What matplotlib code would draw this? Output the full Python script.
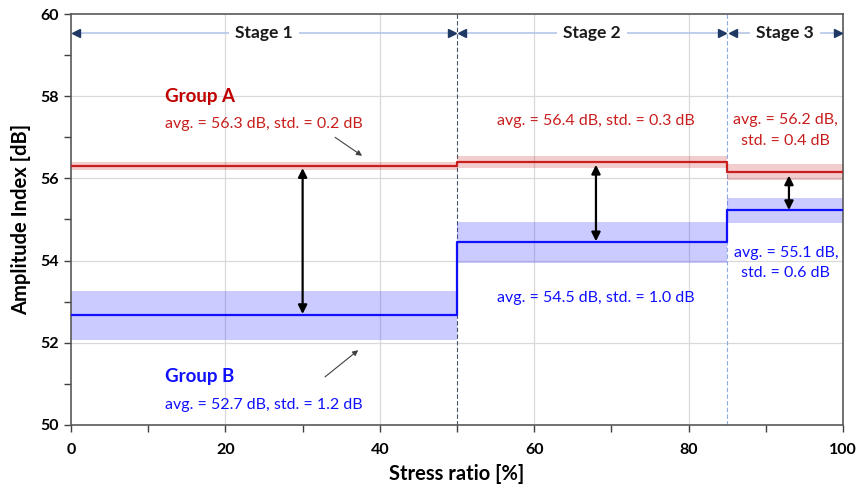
import matplotlib
matplotlib.use("Agg")
import matplotlib.pyplot as plt
import numpy as np

plt.rcParams['font.family'] = ['Lato', 'DejaVu Sans']

# Data
stage_edges = [0, 50, 85, 100]
stage_names = ["Stage 1", "Stage 2", "Stage 3"]
group_a_avg = [56.3, 56.4, 56.15]
group_a_std = [0.2, 0.3, 0.4]
group_b_avg = [52.67, 54.45, 55.22]
group_b_std = [1.2, 1.0, 0.6]
label_a = ["avg. = 56.3 dB, std. = 0.2 dB", "avg. = 56.4 dB, std. = 0.3 dB", "avg. = 56.2 dB,\nstd. = 0.4 dB"]
label_b = ["avg. = 52.7 dB, std. = 1.2 dB", "avg. = 54.5 dB, std. = 1.0 dB", "avg. = 55.1 dB,\nstd. = 0.6 dB"]
gap_arrow_x = [30, 68, 93]
gap_top = [56.25, 56.33, 56.07]
gap_bot = [52.7, 54.47, 55.23]

RED = "#c81e1e"
BLUE = "#1010ff"

fig = plt.figure(figsize=(8.58, 4.90), dpi=100)
ax = fig.add_axes([0.0828, 0.1327, 0.8997, 0.8387])
ax.set_xlim(0, 100)
ax.set_ylim(50, 60)

# grid
for gx in [20, 40, 60, 80]:
    ax.axvline(gx, color="#d9d9d9", lw=0.9, zorder=0)
for gy in [52, 54, 56, 58]:
    ax.axhline(gy, color="#d9d9d9", lw=0.9, zorder=0)

# stage separators
ax.axvline(50, color="#44546a", lw=0.8, ls=(0, (4, 2)), zorder=1)
ax.axvline(85, color="#8faadc", lw=0.8, ls=(0, (4, 2)), zorder=1)

# bands and step lines
xs = np.array(stage_edges)
for i in range(3):
    x0, x1 = stage_edges[i], stage_edges[i + 1]
    ax.fill_between([x0, x1], group_a_avg[i] - group_a_std[i] / 2, group_a_avg[i] + group_a_std[i] / 2,
                    color=RED, alpha=0.22, lw=0, zorder=2)
    ax.fill_between([x0, x1], group_b_avg[i] - group_b_std[i] / 2, group_b_avg[i] + group_b_std[i] / 2,
                    color="#3030ff", alpha=0.25, lw=0, zorder=2)
ax.step(xs, group_a_avg + [group_a_avg[-1]], where="post", color=RED, lw=1.6, zorder=3)
ax.step(xs, group_b_avg + [group_b_avg[-1]], where="post", color=BLUE, lw=1.6, zorder=3)

# gap arrows
for x, yt, yb in zip(gap_arrow_x, gap_top, gap_bot):
    ax.annotate("", xy=(x, yb), xytext=(x, yt),
                arrowprops=dict(arrowstyle="<|-|>", color="black", lw=1.6,
                                mutation_scale=13, shrinkA=0, shrinkB=0), zorder=5)

# stage arrows at top
ys = 59.54
for i in range(3):
    x0, x1 = stage_edges[i], stage_edges[i + 1]
    ax.plot([x0 + 0.6, x1 - 0.6], [ys, ys], color="#b4c7e7", lw=1.2, zorder=3)
    ax.plot([x0 + 0.7], [ys], marker="<", color="#1f3864", ms=6, zorder=4)
    ax.plot([x1 - 0.7], [ys], marker=">", color="#1f3864", ms=6, zorder=4)
    ax.text((x0 + x1) / 2, ys, stage_names[i], ha="center", va="center", fontsize=12.5, fontweight="bold",
            color="#1a1a1a", zorder=5,
            bbox=dict(boxstyle="square,pad=0.35", fc="white", ec="none"))

# group labels
TXT = 11.5
ax.text(12.2, 58.0, "Group A", color="#c00000", fontsize=13.5, fontweight="bold", ha="left", va="center")
ax.text(12.2, 57.32, label_a[0], color=RED, fontsize=TXT, ha="left", va="center")
ax.text(68, 57.4, label_a[1], color=RED, fontsize=TXT, ha="center", va="center")
ax.text(92.6, 57.16, label_a[2], color=RED, fontsize=TXT, ha="center", va="center", linespacing=1.6)

ax.text(12.2, 51.19, "Group B", color=BLUE, fontsize=13.5, fontweight="bold", ha="left", va="center")
ax.text(12.2, 50.49, label_b[0], color=BLUE, fontsize=TXT, ha="left", va="center")
ax.text(68, 53.09, label_b[1], color=BLUE, fontsize=TXT, ha="center", va="center")
ax.text(92.6, 53.94, label_b[2], color=BLUE, fontsize=TXT, ha="center", va="center", linespacing=1.6)

# pointer arrows
ax.annotate("", xy=(37.7, 56.55), xytext=(34.2, 57.0),
            arrowprops=dict(arrowstyle="-|>", color="#404040", lw=0.8, mutation_scale=8, shrinkA=0, shrinkB=0))
ax.annotate("", xy=(37.2, 51.82), xytext=(32.9, 51.17),
            arrowprops=dict(arrowstyle="-|>", color="#404040", lw=0.8, mutation_scale=8, shrinkA=0, shrinkB=0))

# ticks
ax.set_xticks(np.arange(0, 101, 20))
ax.set_xticks(np.arange(0, 101, 10), minor=True)
ax.set_yticks(np.arange(50, 61, 2))
ax.set_yticks(np.arange(50, 61, 1), minor=True)
ax.tick_params(axis="both", which="both", direction="out", color="#404040", width=1)
ax.tick_params(axis="both", which="major", length=5, labelsize=11.5)
ax.tick_params(axis="both", which="minor", length=5)
for lab in ax.get_xticklabels() + ax.get_yticklabels():
    lab.set_fontweight("bold")
ax.tick_params(axis="x", pad=8)

for s in ax.spines.values():
    s.set_color("#595959")
    s.set_linewidth(1.2)

ax.set_xlabel("Stress ratio [%]", fontsize=14.5, fontweight="bold", labelpad=5)
ax.set_ylabel("Amplitude Index [dB]", fontsize=14.5, fontweight="bold", labelpad=7)

fig.savefig("out.png", dpi=100)
